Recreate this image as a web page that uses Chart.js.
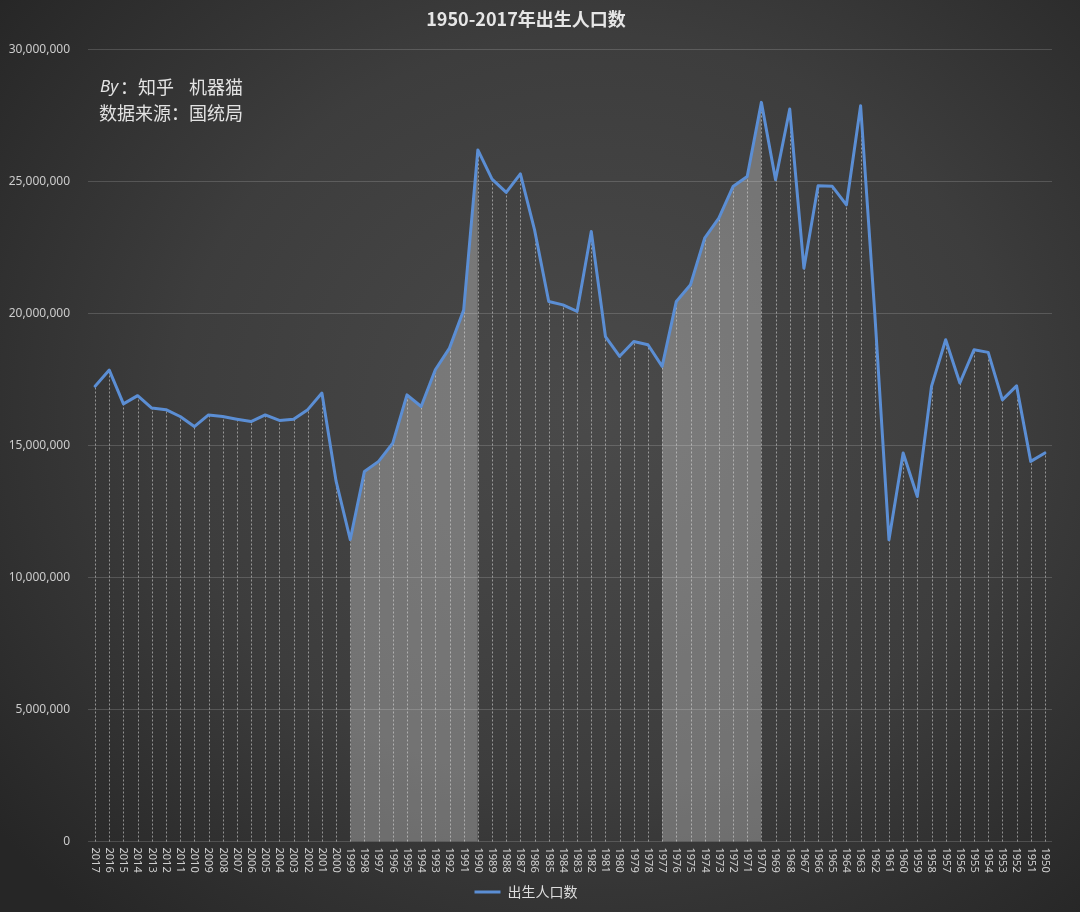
<!DOCTYPE html>
<html>
<head>
<meta charset="utf-8">
<script src="https://cdn.jsdelivr.net/npm/chart.js@4/dist/chart.umd.min.js"></script>
<style>
  html, body { margin: 0; padding: 0; }
  body {
    width: 1080px; height: 912px; overflow: hidden;
    background: radial-gradient(ellipse 70% 75% at 55% 45%, #4a4a4a 0%, #3d3d3d 55%, #262626 100%);
  }
  #wrap { width: 1080px; height: 912px; }
</style>
</head>
<body>
<div id="wrap"><canvas id="birthChart" width="1080" height="912"></canvas></div>
<script>
// years shown newest first, like the original sheet
const years = [];
for (let y = 2017; y >= 1950; y--) years.push(String(y));

// births per year (persons)
const births = [
  17250000, 17860000, 16580000, 16890000, 16420000, 16360000, 16100000, 15720000,
  16160000, 16100000, 16000000, 15910000, 16160000, 15950000, 16000000, 16360000,
  16990000, 13650000, 11440000, 14020000, 14400000, 15090000, 16920000, 16480000,
  17870000, 18690000, 20130000, 26200000, 25090000, 24590000, 25290000, 23170000,
  20460000, 20330000, 20080000, 23110000, 19130000, 18380000, 18940000, 18820000,
  18000000, 20460000, 21090000, 22860000, 23620000, 24810000, 25190000, 28000000,
  25070000, 27750000, 21720000, 24840000, 24820000, 24120000, 27870000, 20000000,
  11430000, 14720000, 13070000, 17240000, 19010000, 17370000, 18630000, 18530000,
  16730000, 17260000, 14400000, 14720000
];

const yTicks = [0, 5000000, 10000000, 15000000, 20000000, 25000000, 30000000];

// highlighted spans (from year, to year)
const shadeSpans = [['1999', '1990'], ['1977', '1970']];

const titleText = '1950-2017年出生人口数';
const seriesName = '出生人口数';

function shadeData(from, to) {
  const a = years.indexOf(from), b = years.indexOf(to);
  return births.map((v, i) => (i >= a && i <= b ? v : null));
}

// dotted drop lines from every point down to the axis
const dropLines = {
  id: 'dropLines',
  beforeDatasetDraw(chart, args) {
    if (args.index !== 0) return;
    const ctx = chart.ctx;
    const base = chart.scales.y.getPixelForValue(0);
    const pts = chart.getDatasetMeta(0).data;
    ctx.save();
    ctx.strokeStyle = 'rgba(225,225,225,0.55)';
    ctx.lineWidth = 1;
    ctx.setLineDash([2, 2]);
    pts.forEach(p => {
      const x = Math.round(p.x) + 0.5;
      ctx.beginPath();
      ctx.moveTo(x, base);
      ctx.lineTo(x, p.y);
      ctx.stroke();
    });
    ctx.restore();
  }
};

// rotated year labels and the note in the upper left
const extras = {
  id: 'extras',
  afterDraw(chart) {
    const ctx = chart.ctx;
    const xs = chart.scales.x;
    const area = chart.chartArea;
    ctx.save();
    ctx.fillStyle = '#cfcfcf';
    ctx.font = '11px "Noto Sans"';
    ctx.textAlign = 'left';
    ctx.textBaseline = 'middle';
    years.forEach((lab, i) => {
      const x = xs.getPixelForTick(i);
      ctx.save();
      ctx.translate(x, area.bottom + 6);
      ctx.rotate(Math.PI / 2);
      ctx.fillText(lab, 0, 0);
      ctx.restore();
    });

    ctx.fillStyle = '#e2e2e2';
    ctx.textBaseline = 'middle';
    ctx.font = 'italic 17px "Noto Sans"';
    ctx.fillText('By', 100, 87);
    ctx.font = '18px "Noto Sans CJK SC"';
    ctx.fillText('：知乎', 120, 87);
    ctx.fillText('机器猫', 189, 87);
    ctx.fillText('数据来源：国统局', 99, 113);
    ctx.restore();
  }
};

const ctx = document.getElementById('birthChart').getContext('2d');
new Chart(ctx, {
  type: 'line',
  data: {
    labels: years,
    datasets: [
      {
        label: seriesName,
        data: births,
        borderColor: '#5b8ed4',
        backgroundColor: '#5b8ed4',
        borderWidth: 3,
        borderJoinStyle: 'round',
        borderCapStyle: 'round',
        pointRadius: 0,
        tension: 0,
        fill: false
      },
      ...shadeSpans.map(([a, b]) => ({
        label: 'shade ' + a,
        data: shadeData(a, b),
        borderWidth: 0,
        pointRadius: 0,
        backgroundColor: 'rgba(255,255,255,0.28)',
        fill: 'origin',
        spanGaps: false
      }))
    ]
  },
  options: {
    responsive: false,
    animation: false,
    layout: { padding: { top: 2, right: 28, bottom: 3, left: 0 } },
    scales: {
      x: {
        offset: true,
        grid: { display: false },
        border: { display: false },
        ticks: { display: false },
        afterFit(scale) { scale.height = 33.5; }
      },
      y: {
        min: 0,
        max: 30000000,
        afterBuildTicks(scale) { scale.ticks = yTicks.map(v => ({ value: v })); },
        afterFit(scale) { scale.width = 88; },
        border: { display: false },
        grid: { color: 'rgba(255,255,255,0.16)', lineWidth: 1, drawTicks: false },
        ticks: {
          padding: 18,
          color: '#cccccc',
          font: { family: 'Noto Sans', size: 12 },
          callback: v => v.toLocaleString('en-US')
        }
      }
    },
    plugins: {
      title: {
        display: true,
        text: titleText,
        color: '#e6e6e6',
        font: { family: 'Noto Sans CJK SC', size: 18, weight: 'bold' },
        padding: { top: 6, bottom: 20 }
      },
      legend: {
        display: true,
        position: 'bottom',
        labels: {
          filter: item => item.datasetIndex === 0,
          color: '#dddddd',
          font: { family: 'Noto Sans CJK SC', size: 14 },
          usePointStyle: true,
          pointStyle: 'line',
          pointStyleWidth: 26,
          boxHeight: 13,
          padding: 10
        }
      },
      tooltip: { enabled: false }
    }
  },
  plugins: [dropLines, extras]
});
</script>
</body>
</html>
